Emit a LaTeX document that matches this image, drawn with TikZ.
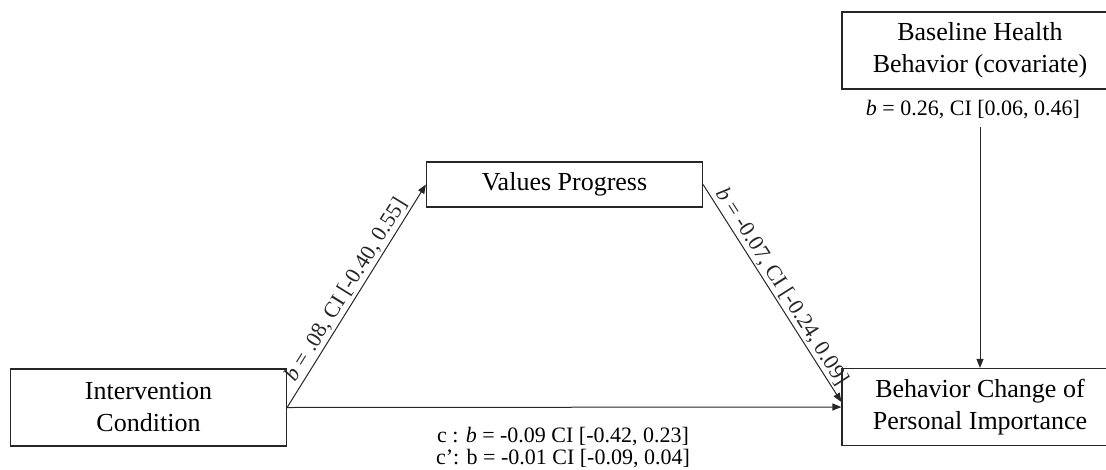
\documentclass[tikz,border=0pt]{standalone}
\usepackage{fontspec}
\setmainfont{Liberation Serif}
\usepackage{tikz}
\usetikzlibrary{arrows.meta, positioning, calc}

\begin{document}
\begin{tikzpicture}[
    x=1pt, y=-1pt,
    box/.style={rectangle, draw=black!85, line width=1.2pt, minimum width=276pt, minimum height=77pt,
                align=center, font=\fontsize{26}{32}\selectfont, inner sep=2pt},
    arrow/.style={-{Triangle[length=9pt, width=7pt]}, line width=1pt, color=black!85},
    coef/.style={font=\fontsize{22}{22}\selectfont, align=center, inner sep=2pt}
]
\useasboundingbox (0,0) rectangle (1106,469);
\clip (0,0) rectangle (1106,469);

\node[box] (interv) at (148.5,407.5) {Intervention\\Condition};
\node[box, minimum height=45pt] (values) at (564.5,184.5) {Values Progress};
\node[box] (behav) at (980,407) {Behavior Change of\\Personal Importance};
\node[box] (base)  at (980,50.5) {Baseline Health\\Behavior (covariate)};

\node[coef] (basecoef) at (973,110) {\textit{b} = 0.26, CI [0.06, 0.46]};
\coordinate (cvtop) at (980,127);

\draw[arrow] (interv.east) -- node[coef, above, sloped] {\textit{b} = .08, CI [-0.40, 0.55]} (values.west);
\draw[arrow] (values.east) -- node[coef, above, sloped] {\textit{b} = -0.07, CI [-0.24, 0.09]} ($(behav.west)+(0,-5)$);
\draw[arrow] (interv.east) -- (behav.west);
\draw[arrow] (cvtop) -- (behav.north);

\node[coef] (direct) at (563,448) {c : \textit{b} = -0.09 CI [-0.42, 0.23]\\c’: b = -0.01 CI [-0.09, 0.04]};

\end{tikzpicture}
\end{document}
